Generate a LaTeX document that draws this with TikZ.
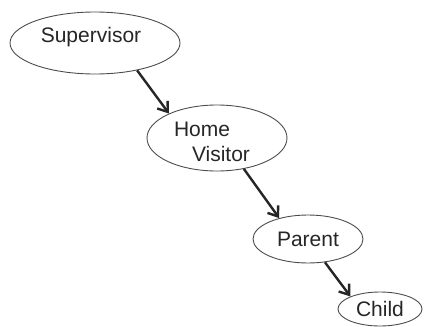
\documentclass[tikz,border=0pt]{standalone}
\usepackage{fontspec}
\setmainfont{Liberation Sans}
\usetikzlibrary{shapes.geometric,arrows.meta}
\tikzset{
  role/.style={ellipse, draw=black!70, line width=0.9pt, inner sep=0pt,
    font=\fontsize{21}{25}\selectfont, text=black!85},
  link/.style={->, line width=2.4pt, draw=black!85}
}
\begin{document}
\begin{tikzpicture}[>={Straight Barb[length=9pt,width=13pt]}, x=1pt, y=-1pt]
  \useasboundingbox (0,0) rectangle (424,327);
  \node[role, minimum width=170pt, minimum height=62pt] (sup) at (95,43) {};
  \node[font=\fontsize{21}{25}\selectfont, text=black!85] (suptxt) at (91,37) {Supervisor};
  \node[role, minimum width=140pt, minimum height=66pt] (hv) at (217,138) {};
  \node[font=\fontsize{21}{25}\selectfont, text=black!85, align=left] (hvtxt) at (212,142) {Home\\\hspace*{18pt}Visitor};
  \node[role, minimum width=110pt, minimum height=48pt] (par) at (308,239) {Parent};
  \node[role, minimum width=84pt, minimum height=34pt] (kid) at (380,309) {Child};
  % arrows
  \draw[link] (sup.-33) -- (hv.153);
  \draw[link] (hv.-49) -- (par.144);
  \draw[link] (par.-54) -- (kid.157);
\end{tikzpicture}
\end{document}
